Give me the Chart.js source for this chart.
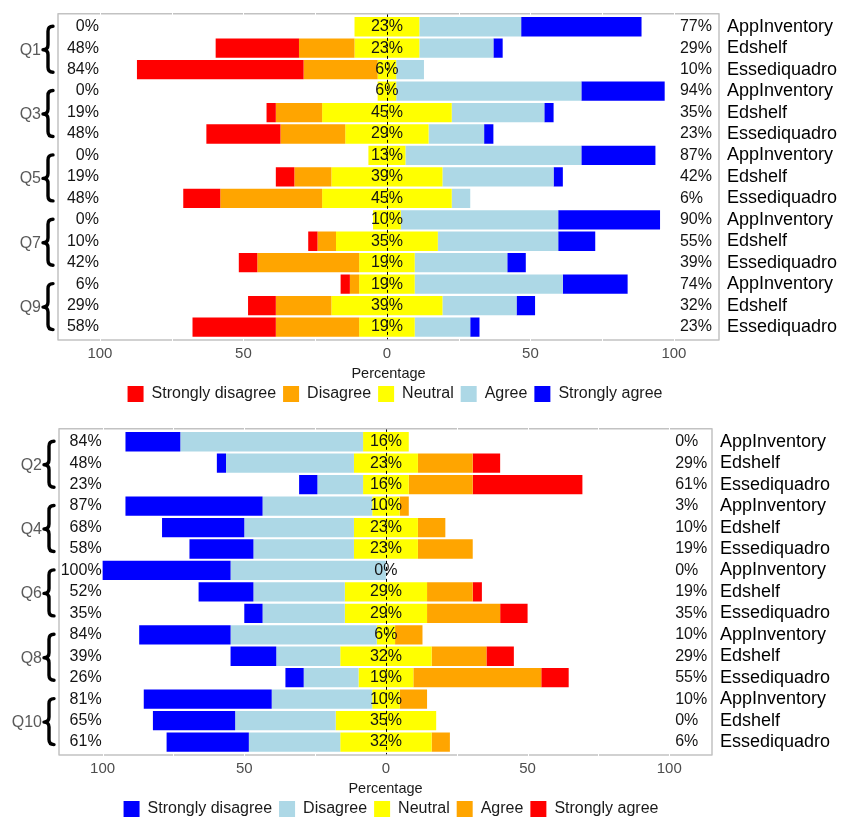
<!DOCTYPE html>
<html>
<head>
<meta charset="utf-8">
<title>Likert responses by tool</title>
<script src="https://cdn.jsdelivr.net/npm/chart.js@4.4.1/dist/chart.umd.min.js"></script>
<style>
  html, body { margin: 0; padding: 0; background: #fff; }
  #page { position: relative; width: 843px; height: 819px; overflow: hidden; background: #fff; }
  #page canvas { position: absolute; left: 0; }
  #topChart { top: 0; }
  #bottomChart { top: 415px; }
</style>
</head>
<body>
<div id="page">
  <canvas id="topChart" width="843" height="420"></canvas>
  <canvas id="bottomChart" width="843" height="420"></canvas>
</div>
<script>
// ---- data ----
const tools = ['AppInventory', 'Edshelf', 'Essediquadro'];
const levels = ['Strongly disagree', 'Disagree', 'Neutral', 'Agree', 'Strongly agree'];
const xTickValues = [-100, -50, 0, 50, 100];

// Odd-numbered questions (rows: Q1 App, Q1 Ed, Q1 Ess, Q3 App, ...), percent of respondents
const oddQuestions = ['Q1', 'Q3', 'Q5', 'Q7', 'Q9'];
const oddStronglyDisagree = [0, 29.03, 58.06, 0, 3.23, 25.81, 0, 6.45, 12.90, 0, 3.23, 6.45, 3.23, 9.68, 29.03];
const oddDisagree         = [0, 19.35, 25.81, 0, 16.13, 22.58, 0, 12.90, 35.48, 0, 6.45, 35.48, 3.23, 19.35, 29.03];
const oddNeutral          = [22.58, 22.58, 6.45, 6.45, 45.16, 29.03, 12.90, 38.71, 45.16, 9.68, 35.48, 19.35, 19.35, 38.71, 19.35];
const oddAgree            = [35.48, 25.81, 9.68, 64.52, 32.26, 19.35, 61.29, 38.71, 6.45, 54.84, 41.94, 32.26, 51.61, 25.81, 19.35];
const oddStronglyAgree    = [41.94, 3.23, 0, 29.03, 3.23, 3.23, 25.81, 3.23, 0, 35.48, 12.90, 6.45, 22.58, 6.45, 3.23];

// Even-numbered questions
const evenQuestions = ['Q2', 'Q4', 'Q6', 'Q8', 'Q10'];
const evenStronglyDisagree = [19.35, 3.23, 6.45, 48.39, 29.03, 22.58, 45.16, 19.35, 6.45, 32.26, 16.13, 6.45, 45.16, 29.03, 29.03];
const evenDisagree         = [64.52, 45.16, 16.13, 38.71, 38.71, 35.48, 54.84, 32.26, 29.03, 51.61, 22.58, 19.35, 35.48, 35.48, 32.26];
const evenNeutral          = [16.13, 22.58, 16.13, 9.68, 22.58, 22.58, 0, 29.03, 29.03, 6.45, 32.26, 19.35, 9.68, 35.48, 32.26];
const evenAgree            = [0, 19.35, 22.58, 3.23, 9.68, 19.35, 0, 16.13, 25.81, 9.68, 19.35, 45.16, 9.68, 0, 6.45];
const evenStronglyAgree    = [0, 9.68, 38.71, 0, 0, 0, 0, 3.23, 9.68, 0, 9.68, 9.68, 0, 0, 0];

// ---- styles ----
const oddColors  = ['#FF0000', '#FFA500', '#FFFF00', '#ADD8E6', '#0000FF'];
const evenColors = ['#0000FF', '#ADD8E6', '#FFFF00', '#FFA500', '#FF0000'];
const FONT = '"Liberation Sans", Arial, Helvetica, sans-serif';
Chart.defaults.font.family = FONT;

// Percent labels, question names and braces drawn around the panel
const likertDecor = {
  id: 'likertDecor',
  afterLayout(chart, args, opts) {
    // centre the legend row under the whole figure rather than the canvas
    const lg = chart.legend;
    if (lg && opts.legendCenter) {
      const dx = opts.legendCenter - (lg.left + lg.right) / 2;
      lg.left += dx;
      lg.right += dx;
    }
  },
  afterDatasetsDraw(chart, args, opts) {
    const { ctx, chartArea } = chart;
    const xs = chart.scales.x, ys = chart.scales.y;
    const nRows = chart.data.labels.length;
    const rowH = ys.getPixelForValue(1) - ys.getPixelForValue(0);
    const top = ys.getPixelForValue(0) - 0.6 * rowH;
    const bottom = ys.getPixelForValue(nRows - 1) + 0.6 * rowH;
    const [sd, d, n, a, sa] = opts.series;

    ctx.save();
    // dotted zero line
    const x0 = Math.round(xs.getPixelForValue(0)) + 0.5;
    ctx.setLineDash([3, 3]);
    ctx.strokeStyle = '#000';
    ctx.lineWidth = 1;
    ctx.beginPath();
    ctx.moveTo(x0, top);
    ctx.lineTo(x0, bottom);
    ctx.stroke();
    ctx.setLineDash([]);

    // per-row percentages
    ctx.font = '16px ' + FONT;
    ctx.textBaseline = 'middle';
    ctx.fillStyle = '#141414';
    const xLeft = xs.getPixelForValue(-100) - 1;
    const xRight = xs.getPixelForValue(100) + 6;
    for (let i = 0; i < nRows; i++) {
      const y = ys.getPixelForValue(i);
      ctx.textAlign = 'center';
      ctx.fillText(Math.round(n[i]) + '%', xs.getPixelForValue(0), y);
      ctx.textAlign = 'right';
      ctx.fillText(Math.round(sd[i] + d[i]) + '%', xLeft, y);
      ctx.textAlign = 'left';
      ctx.fillText(Math.round(a[i] + sa[i]) + '%', xRight, y);
    }

    // question names with curly braces
    const xr = chartArea.left - 5;
    const xm = xr - 5;
    const xc = xr - 10;
    opts.questions.forEach((q, g) => {
      const yc = ys.getPixelForValue(g * 3 + 1);
      ctx.fillStyle = '#5a5a5a';
      ctx.textAlign = 'right';
      ctx.fillText(q, chartArea.left - 17, yc + 2);
      const y0 = yc - 22, y1 = yc + 24, ym = yc + 1.5;
      ctx.strokeStyle = '#000';
      ctx.lineWidth = 3.4;
      ctx.lineCap = 'round';
      ctx.lineJoin = 'round';
      ctx.beginPath();
      ctx.moveTo(xr, y0);
      ctx.quadraticCurveTo(xm, y0, xm, y0 + 5);
      ctx.lineTo(xm, ym - 5);
      ctx.quadraticCurveTo(xm, ym, xc, ym);
      ctx.quadraticCurveTo(xm, ym, xm, ym + 5);
      ctx.lineTo(xm, y1 - 5);
      ctx.quadraticCurveTo(xm, y1, xr, y1);
      ctx.stroke();
    });

    // panel border with grid notches
    ctx.strokeStyle = '#c2c2c2';
    ctx.lineWidth = 1.5;
    ctx.strokeRect(chartArea.left, top, chartArea.right - chartArea.left, bottom - top);
    ctx.strokeStyle = '#ffffff';
    ctx.lineWidth = 1;
    [-100, -75, -50, -25, 25, 50, 75, 100].forEach(v => {
      const x = Math.round(xs.getPixelForValue(v)) + 0.5;
      ctx.beginPath();
      ctx.moveTo(x, top - 1.5); ctx.lineTo(x, top + 1.5);
      ctx.moveTo(x, bottom - 1.5); ctx.lineTo(x, bottom + 1.5);
      ctx.stroke();
    });
    ctx.restore();
  }
};

function buildPanel(canvasId, questions, series, colors, frame) {
  const rowLabels = [];
  questions.forEach(q => tools.forEach(t => rowLabels.push(q + ' ' + t)));
  const [sd, d, n, a, sa] = series;
  // segment edges for each row, centred on the neutral share
  const edges = rowLabels.map((_, i) => {
    const h = n[i] / 2;
    return [-h - d[i] - sd[i], -h - d[i], -h, h, h + a[i], h + a[i] + sa[i]];
  });
  const datasets = levels.map((lvl, k) => ({
    label: lvl,
    data: edges.map(e => (e[k + 1] - e[k] > 0 ? [e[k], e[k + 1]] : null)),
    backgroundColor: colors[k],
    borderWidth: 0,
    grouped: false,
    barPercentage: 0.9,
    categoryPercentage: 1.0
  }));

  return new Chart(document.getElementById(canvasId), {
    type: 'bar',
    data: { labels: rowLabels, datasets },
    plugins: [likertDecor],
    options: {
      responsive: false,
      animation: false,
      indexAxis: 'y',
      layout: { padding: { left: frame.left, right: 0, top: 16, bottom: 8 } },
      scales: {
        x: {
          type: 'linear',
          min: frame.xMin,
          max: frame.xMax,
          grid: { display: false, drawTicks: false },
          border: { display: false },
          afterBuildTicks: s => { s.ticks = xTickValues.map(v => ({ value: v })); },
          ticks: { padding: 7.5, color: '#4d4d4d', font: { size: 15 }, callback: v => String(Math.abs(v)) },
          title: { display: true, text: 'Percentage', color: '#1a1a1a', font: { size: 14.5 }, padding: { top: 0, bottom: -4 } },
          afterFit: s => { s.height = 41.2; s.paddingLeft = 0; s.paddingRight = 0; }
        },
        y: {
          type: 'category',
          position: 'right',
          grid: { display: false, drawTicks: false },
          border: { display: false },
          ticks: {
            autoSkip: false,
            padding: 8,
            color: '#000',
            font: { size: 18 },
            callback: (v, i) => tools[i % tools.length]
          },
          afterFit: s => { s.width = 843 - frame.right; s.paddingTop = 0; s.paddingBottom = 0; }
        }
      },
      plugins: {
        legend: {
          position: 'bottom',
          labels: { boxWidth: 16, boxHeight: 16, padding: 7, color: '#1a1a1a', font: { size: 16 } }
        },
        tooltip: { enabled: false },
        likertDecor: { series, questions, legendCenter: frame.legendCenter }
      }
    }
  });
}

buildPanel('topChart', oddQuestions,
  [oddStronglyDisagree, oddDisagree, oddNeutral, oddAgree, oddStronglyAgree],
  oddColors,
  { left: 58, right: 719, xMin: -114.6, xMax: 115.7, legendCenter: 395 });

buildPanel('bottomChart', evenQuestions,
  [evenStronglyDisagree, evenDisagree, evenNeutral, evenAgree, evenStronglyAgree],
  evenColors,
  { left: 59, right: 712, xMin: -115.4, xMax: 115.1, legendCenter: 391 });
</script>
</body>
</html>
